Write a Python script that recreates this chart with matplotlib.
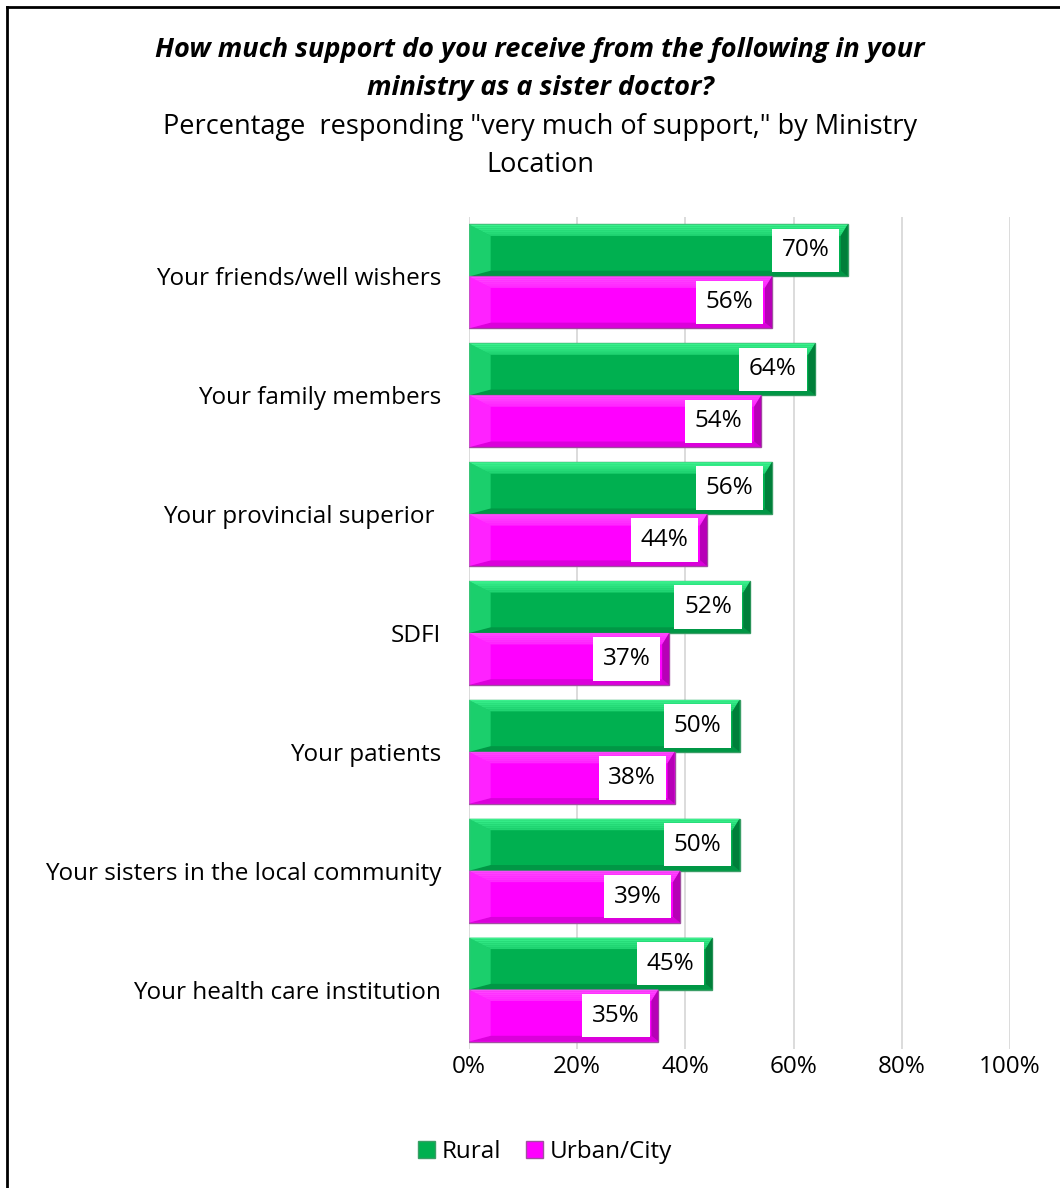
import numpy as np
import matplotlib.pyplot as plt
from matplotlib.patches import Polygon
from matplotlib.lines import Line2D

categories = [
    "Your friends/well wishers",
    "Your family members",
    "Your provincial superior ",
    "SDFI",
    "Your patients",
    "Your sisters in the local community",
    "Your health care institution",
]
rural = [70, 64, 56, 52, 50, 50, 45]
urban = [56, 54, 44, 37, 38, 39, 35]
series_names = ["Rural", "Urban/City"]
xticks = [0, 20, 40, 60, 80, 100]

plt.rcParams["font.family"] = ["Open Sans", "DejaVu Sans"]

W, H = 1060, 1188
fig = plt.figure(figsize=(W / 100, H / 100), dpi=100)

# plot area in pixels: x 469..1010, y 217..1049
ax = fig.add_axes([469 / W, 1 - 1049 / H, (1010 - 469) / W, (1049 - 217) / H])

n = len(categories)
y = np.arange(n)
bh = 0.437

styles = {
    "Rural": dict(face="#00B050", light="#3DF590", dark="#007A38", edge="#3A9E66"),
    "Urban/City": dict(face="#FF00FF", light="#FF4DFF", dark="#B000B0", edge="#A050A0"),
}


def bevel_bar(ax, yc, val, st):
    y0, y1 = yc - bh / 2, yc + bh / 2  # y axis is inverted: y0 is the top edge
    ax.barh(yc, val, height=bh, color=st["face"], edgecolor=st["edge"], linewidth=1, zorder=2)
    bx = 4.0
    rx = 1.3
    by = bh * 0.22
    # top strip, fading from light to face colour
    steps = 6
    for k in range(steps):
        ya = y0 + by * k / steps
        yb = y0 + by * (k + 1) / steps
        ax.add_patch(Polygon([(bx * k / steps, ya), (val - rx * k / steps, ya),
                              (val - rx * (k + 1) / steps, yb), (bx * (k + 1) / steps, yb)],
                             closed=True, color=st["light"], lw=0,
                             alpha=0.95 - 0.5 * k / steps, zorder=3))
    # bottom strip (darker)
    ax.add_patch(Polygon([(0, y1), (val, y1), (val - rx, y1 - by * 0.5), (bx, y1 - by * 0.5)],
                         closed=True, color=st["dark"], lw=0, alpha=0.45, zorder=3))
    # left bevel: lighter chevron
    ax.add_patch(Polygon([(0, y0), (bx, y0 + by), (bx, y1 - by * 0.5), (0, y1)],
                         closed=True, color=st["light"], lw=0, alpha=0.45, zorder=3))
    # right bevel (dark)
    ax.add_patch(Polygon([(val, y0), (val - rx, y0 + by), (val - rx, y1 - by * 0.5), (val, y1)],
                         closed=True, color=st["dark"], lw=0, alpha=0.9, zorder=3))
    ax.text(val - 3.4, yc, f"{val}%", ha="right", va="center", fontsize=17.5,
            color="black", zorder=5,
            bbox=dict(boxstyle="square,pad=0.4", fc="white", ec="none"))


for i in range(n):
    bevel_bar(ax, y[i] - bh / 2, rural[i], styles["Rural"])
    bevel_bar(ax, y[i] + bh / 2, urban[i], styles["Urban/City"])

ax.set_xlim(0, 100)
ax.set_ylim(n - 0.5, -0.5)
ax.set_xticks(xticks)
ax.set_xticklabels([f"{t}%" for t in xticks], fontsize=17.5)
ax.set_yticks(y)
ax.set_yticklabels(categories, fontsize=17.5)
ax.tick_params(length=0)
ax.tick_params(axis="x", pad=4)
ax.tick_params(axis="y", pad=20)
ax.grid(axis="x", color="#D9D9D9", linewidth=1.3, zorder=0)
ax.set_axisbelow(True)
for s in ax.spines.values():
    s.set_visible(False)

# titles
fig.text(540 / W, 1 - 50 / H, "How much support do you receive from the following in your",
         ha="center", va="center", fontsize=19.5, fontweight="bold", style="italic")
fig.text(540 / W, 1 - 88 / H, "ministry as a sister doctor?",
         ha="center", va="center", fontsize=19.5, fontweight="bold", style="italic")
fig.text(540 / W, 1 - 127 / H, "Percentage  responding \"very much of support,\" by Ministry",
         ha="center", va="center", fontsize=19.5)
fig.text(540 / W, 1 - 165 / H, "Location", ha="center", va="center", fontsize=19.5)

# legend
handles = [plt.Rectangle((0, 0), 1, 1, fc=styles[s]["face"], ec=styles[s]["edge"]) for s in series_names]
fig.legend(handles, series_names, loc="center", bbox_to_anchor=(545 / W, 1 - 1152 / H),
           ncol=2, frameon=False, fontsize=17.5, handlelength=0.7, handleheight=0.7,
           handletextpad=0.3, columnspacing=1.0)

# chart border (left and top visible)
fig.add_artist(Line2D([7 / W, 7 / W], [0, 1 - 7 / H], color="black", lw=2, transform=fig.transFigure))
fig.add_artist(Line2D([7 / W, 1], [1 - 7 / H, 1 - 7 / H], color="black", lw=2, transform=fig.transFigure))

fig.savefig("out.png", dpi=100)
plt.close(fig)
